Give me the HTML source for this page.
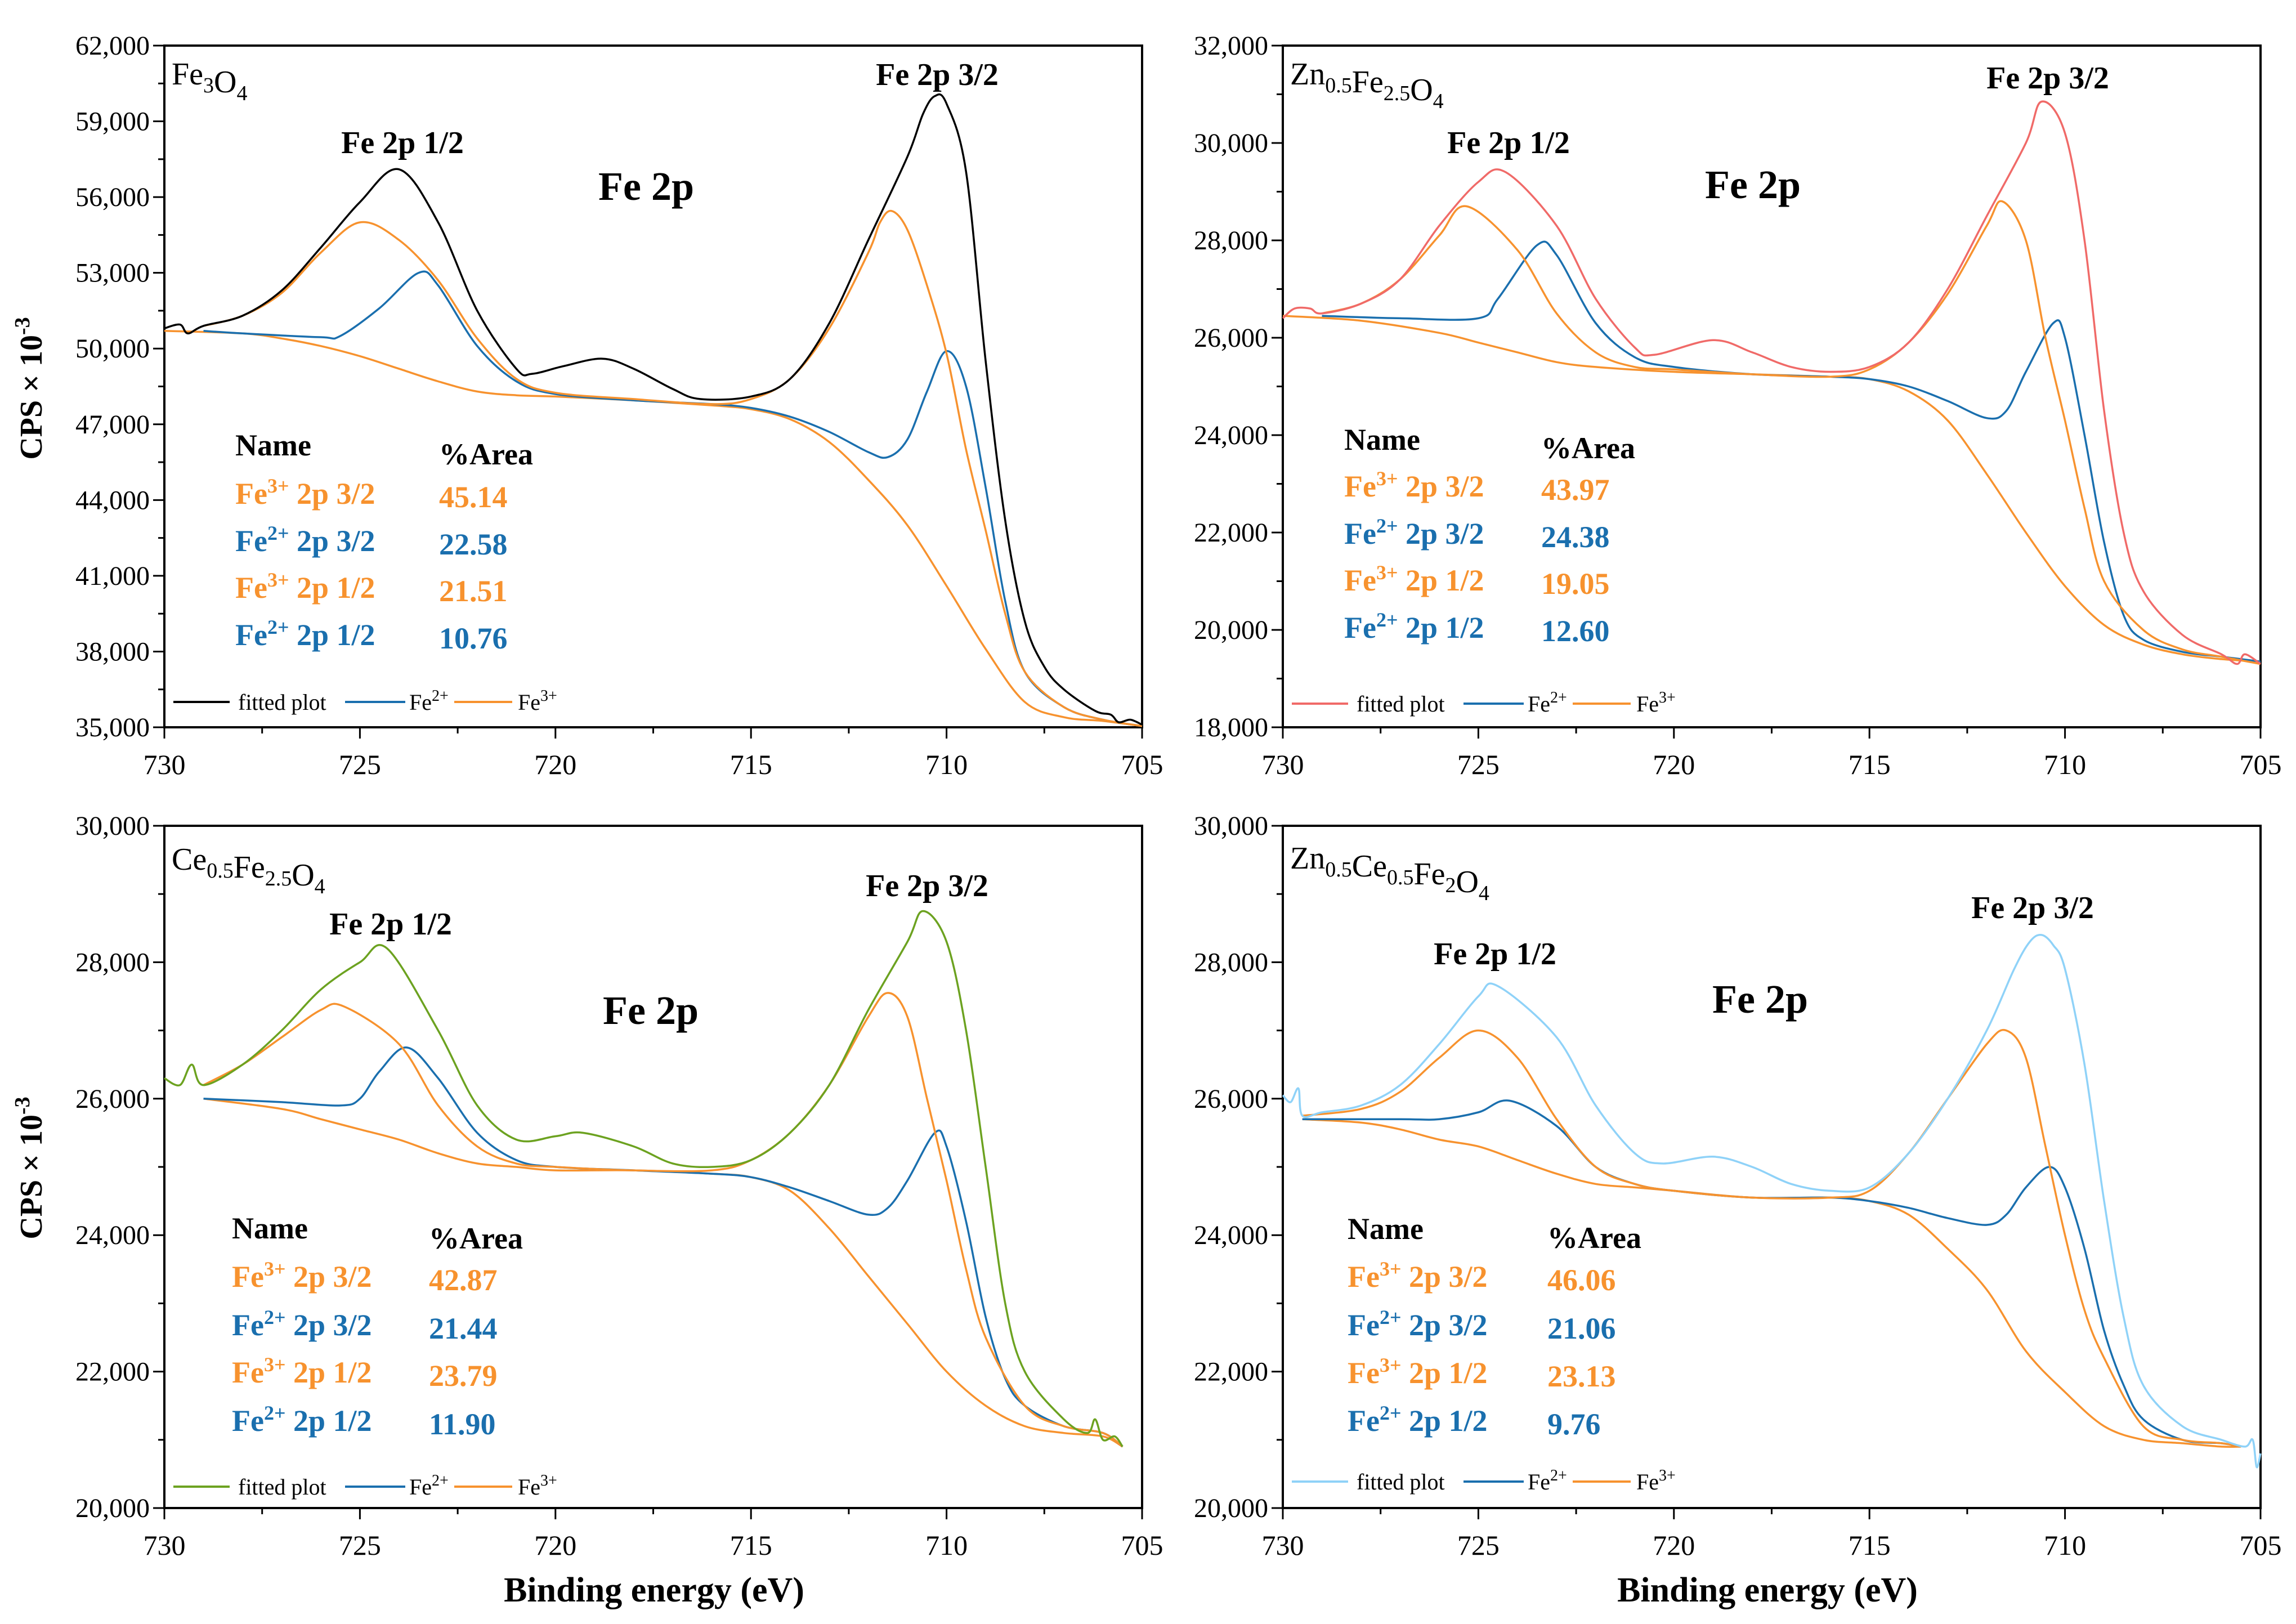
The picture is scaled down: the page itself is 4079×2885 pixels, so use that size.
<!DOCTYPE html>
<html><head><meta charset="utf-8">
<style>
html,body{margin:0;padding:0;background:#fff}
svg{display:block}
text{font-family:"Liberation Serif",serif}
</style></head>
<body>
<svg id="chart" width="4079" height="2885" viewBox="0 0 4079 2885" xmlns="http://www.w3.org/2000/svg">
<rect width="4079" height="2885" fill="#fff"/>
<text transform="translate(74,690) rotate(-90)" text-anchor="middle" font-size="56" font-weight="bold">CPS × 10<tspan dy="-22" font-size="38">-3</tspan></text>
<text transform="translate(74,2075) rotate(-90)" text-anchor="middle" font-size="56" font-weight="bold">CPS × 10<tspan dy="-22" font-size="38">-3</tspan></text>
<text x="1162" y="2845" text-anchor="middle" font-size="62" font-weight="bold">Binding energy (eV)</text>
<text x="3140" y="2845" text-anchor="middle" font-size="62" font-weight="bold">Binding energy (eV)</text>
</svg>
<script>
// ---- data ----
const xTicks = [730, 725, 720, 715, 710, 705];
const yTicksA = [35000, 38000, 41000, 44000, 47000, 50000, 53000, 56000, 59000, 62000];
const yTicksB = [18000, 20000, 22000, 24000, 26000, 28000, 30000, 32000];
const yTicksC = [20000, 22000, 24000, 26000, 28000, 30000];
const legendNames = ["Fe3+ 2p 3/2", "Fe2+ 2p 3/2", "Fe3+ 2p 1/2", "Fe2+ 2p 1/2"];
const areasA = ["45.14", "22.58", "21.51", "10.76"];
const areasB = ["43.97", "24.38", "19.05", "12.60"];
const areasC = ["42.87", "21.44", "23.79", "11.90"];
const areasD = ["46.06", "21.06", "23.13", "9.76"];

const fitA = [[730,50800],[729.6,50950],[729.4,50600],[729,50900],[728,51300],[727,52300],[726,54000],[725,55800],[724,57100],[723,55000],[722,51500],[721,49200],[720.6,49000],[719.8,49300],[718.8,49600],[718,49200],[717,48400],[716.3,48000],[715,48100],[714,48800],[713,51000],[712,54300],[711,57600],[710.6,59300],[710.3,60000],[710,59700],[709.5,57000],[709,49500],[708.5,43200],[708,39200],[707.5,37400],[707,36500],[706.2,35650],[705.8,35500],[705.6,35200],[705.3,35300],[705,35100]];
const fe3A = [[729,50900],[728,51300],[727,52200],[726,53800],[725,55000],[724,54300],[723,52700],[722,50400],[721,48800],[720,48250],[718,48000],[716,47800],[715,48000],[714,48800],[713,50800],[712,53800],[711.7,55000],[711.4,55450],[711,54700],[710.5,52500],[710,49800],[709.5,46000],[709,42800],[708.5,39500],[708,37200],[707,35800],[706,35300],[705,35050]];
const fe2A = [[729,50700],[728,50600],[726,50450],[725.5,50500],[724.5,51600],[723.5,53000],[723,52500],[722,50100],[721,48700],[720,48200],[718,47950],[716,47800],[715,47650],[714,47300],[713,46700],[712,45900],[711.5,45700],[711,46400],[710.5,48300],[710,49900],[709.5,48500],[709,44500],[708.5,40000],[708,37200],[707,35800],[706,35300],[705,35050]];
const bgA = [[730,50700],[728,50600],[727,50400],[726,50100],[725,49700],[724,49200],[723,48700],[722,48300],[721,48150],[720,48100],[718,47950],[716,47750],[715,47600],[714,47200],[713,46300],[712,44800],[711,43000],[710,40600],[709,38100],[708,36000],[707,35400],[706,35250],[705,35050]];

const fitB = [[730,26400],[729.7,26600],[729.3,26600],[729,26500],[728,26700],[727,27200],[726,28300],[725,29200],[724.3,29400],[723,28300],[722,26800],[721,25800],[720.5,25650],[719,25950],[718,25700],[717,25400],[716,25300],[715,25400],[714,25900],[713,27000],[712,28500],[711,30000],[710.6,30850],[710,30200],[709.5,28000],[709,24500],[708.5,22000],[708,20800],[707,19900],[706,19500],[705.6,19300],[705.4,19500],[705,19300]];
const fe3B = [[729,26500],[728,26700],[727,27200],[726,28100],[725.3,28700],[724,27800],[723,26500],[722,25700],[721,25400],[720,25350],[718,25250],[716,25200],[715,25350],[714,25900],[713,26900],[712,28300],[711.6,28800],[711,28000],[710.5,26000],[710,24300],[709.5,22500],[709,21000],[708,20000],[707,19600],[706,19450],[705,19300]];
const fe2B = [[729,26450],[727,26400],[725,26400],[724.5,26800],[723.5,27900],[723,27700],[722,26300],[721,25600],[720,25400],[718,25250],[716,25200],[715,25150],[714,25000],[713,24700],[712,24350],[711.5,24500],[711,25300],[710.3,26300],[710,26000],[709.5,24000],[709,21800],[708.5,20300],[708,19800],[707,19550],[706,19450],[705,19350]];
const bgB = [[730,26450],[728,26350],[726,26100],[725,25900],[724,25700],[723,25500],[722,25400],[720,25300],[718,25250],[716,25200],[715,25150],[714,24900],[713,24300],[712,23200],[711,22000],[710,20900],[709,20100],[708,19700],[707,19500],[706,19400],[705,19350]];

const fitC = [[730,26300],[729.6,26200],[729.3,26500],[729,26200],[728,26500],[727,27000],[726,27600],[725,28000],[724.3,28200],[723,27000],[722,25900],[721,25400],[720,25450],[719.3,25500],[718,25300],[717,25050],[716,25000],[715,25100],[714,25500],[713,26200],[712,27300],[711,28300],[710.6,28750],[710,28300],[709.5,27000],[709,25000],[708.5,23000],[708,22000],[707,21300],[706.4,21100],[706.2,21300],[706,21000],[705.7,21050],[705.5,20900]];
const fe3C = [[729,26200],[728,26500],[727,26900],[726,27300],[725.4,27350],[724,26800],[723,25900],[722,25300],[721,25050],[720,25000],[718,24950],[716,24950],[715,25100],[714,25500],[713,26200],[712,27200],[711.5,27550],[711,27200],[710.5,26000],[710,24800],[709.5,23500],[709,22500],[708,21500],[707,21200],[706,21100],[705.5,20900]];
const fe2C = [[729,26000],[727,25950],[725.5,25900],[725,26000],[724.5,26400],[723.8,26750],[723,26300],[722,25500],[721,25100],[720,25000],[718,24950],[716,24900],[715,24850],[714,24700],[713,24500],[712,24300],[711.5,24400],[711,24800],[710.3,25500],[710,25300],[709.5,24200],[709,22800],[708.5,21900],[708,21500],[707,21200],[706,21100],[705.5,20900]];
const bgC = [[729,26000],[727,25850],[726,25700],[725,25550],[724,25400],[723,25200],[722,25050],[721,25000],[720,24950],[718,24950],[716,24900],[715,24850],[714,24650],[713,24100],[712,23400],[711,22700],[710,22000],[709,21500],[708,21200],[707,21100],[706,21050],[705.5,20900]];

const fitD = [[730,26050],[729.8,25950],[729.6,26150],[729.5,25750],[729,25800],[728,25900],[727,26200],[726,26800],[725,27500],[724.5,27650],[723,26900],[722,25900],[721,25200],[720.3,25050],[719,25150],[718,25000],[717,24750],[716,24650],[715,24700],[714,25200],[713,26000],[712,27000],[711.3,27900],[710.9,28300],[710.6,28400],[710.3,28250],[710,27900],[709.5,26500],[709,24500],[708.5,22800],[708,21800],[707,21200],[706,21000],[705.4,20900],[705.2,21000],[705.1,20600],[705,20800]];
const fe3D = [[729.5,25750],[728,25850],[727,26100],[726,26600],[725,27000],[724,26600],[723,25700],[722,25000],[721,24750],[720,24650],[718,24550],[716,24550],[715,24650],[714,25200],[713,26000],[712,26800],[711.5,27000],[711,26600],[710.5,25300],[710,24000],[709.5,22900],[709,22200],[708,21200],[707,21000],[706,20950],[705.5,20900]];
const fe2D = [[729.5,25700],[727,25700],[726,25700],[725,25800],[724.2,25970],[723,25600],[722,25000],[721,24750],[720,24650],[718,24550],[716,24550],[715,24500],[714,24400],[713,24250],[712,24150],[711.5,24300],[711,24700],[710.4,25000],[710,24700],[709.5,23800],[709,22600],[708.5,21800],[708,21300],[707,21000],[706,20950],[705.5,20900]];
const bgD = [[729.5,25700],[728,25650],[727,25550],[726,25400],[725,25300],[724,25100],[723,24900],[722,24750],[721,24700],[720,24650],[718,24550],[716,24550],[715,24500],[714,24300],[713,23800],[712,23200],[711,22300],[710,21700],[709,21200],[708,21000],[707,20950],[706,20900],[705.5,20900]];

// ---- rendering ----
const NS = "http://www.w3.org/2000/svg";
const svg = document.getElementById("chart");
const ORANGE = "#f7922e", BLUE = "#1a6fae";

function mk(tag, attrs, parent) {
  const e = document.createElementNS(NS, tag);
  for (const k in attrs) e.setAttribute(k, attrs[k]);
  (parent || svg).appendChild(e);
  return e;
}
function fmt(v) { return v.toLocaleString("en-US"); }
function smoothPath(pts) {
  let d = "M" + pts[0][0].toFixed(1) + "," + pts[0][1].toFixed(1);
  for (let i = 0; i < pts.length - 1; i++) {
    const p0 = pts[Math.max(0, i - 1)], p1 = pts[i], p2 = pts[i + 1], p3 = pts[Math.min(pts.length - 1, i + 2)];
    const c1x = p1[0] + (p2[0] - p0[0]) / 6, c1y = p1[1] + (p2[1] - p0[1]) / 6;
    const c2x = p2[0] - (p3[0] - p1[0]) / 6, c2y = p2[1] - (p3[1] - p1[1]) / 6;
    d += "C" + c1x.toFixed(1) + "," + c1y.toFixed(1) + " " + c2x.toFixed(1) + "," + c2y.toFixed(1) + " " + p2[0].toFixed(1) + "," + p2[1].toFixed(1);
  }
  return d;
}

function panel(cfg) {
  const {L, T, W, H, yTicks, minorStep, fit, fe3, fe2, bg, fitColor, areas, id, lab} = cfg;
  const g = mk("g", {});
  
  
  const ymin = yTicks[0], ymax = yTicks[yTicks.length - 1];
  const xs = e => L + (730 - e) / 25 * W;
  const ys = v => T + H - (v - ymin) / (ymax - ymin) * H;
  const toPts = arr => arr.map(p => [xs(p[0]), ys(p[1])]);

  const fr = mk("rect", {x: L, y: T, width: W, height: H, fill: "none", stroke: "#000", "stroke-width": 4}, g);
  
  
  for (let v = ymin; v <= ymax + 1; v += minorStep) {
    const major = yTicks.includes(v);
    mk("line", {x1: L, x2: L - (major ? 20 : 11), y1: ys(v), y2: ys(v), stroke: "#000", "stroke-width": 3}, g);
  }
  yTicks.forEach(v => {
    const t = mk("text", {x: L - 26, y: ys(v) + 16, "text-anchor": "end", "font-size": 48}, g);
    
    
    t.textContent = fmt(v);
  });
  for (let e = 730; e >= 705; e -= 2.5) {
    const major = e % 5 === 0;
    mk("line", {x1: xs(e), x2: xs(e), y1: T + H, y2: T + H + (major ? 20 : 11), stroke: "#000", "stroke-width": 3}, g);
  }
  xTicks.forEach(e => {
    const t = mk("text", {x: xs(e), y: T + H + 83, "text-anchor": "middle", "font-size": 50}, g);
    
    
    t.textContent = e;
  });
  const series = [[bg, ORANGE, "background-line"], [fe2, BLUE, "fe2-line"], [fe3, ORANGE, "fe3-line"], [fit, fitColor, "fitted-line"]];
  series.forEach(s => {
    const p = mk("path", {d: smoothPath(toPts(s[0])), fill: "none", stroke: s[1], "stroke-width": 3.5, "stroke-linejoin": "round"}, g);
    
    
  });
  const t1 = mk("text", {x: L + 13, y: T + lab.title[1], "font-size": 56}, g);
  
  
  t1.innerHTML = lab.titleHtml;
  const addTxt = (x, y, s, size, name, anchor, color) => {
    const t = mk("text", {x: x, y: y, "font-size": size, "font-weight": "bold", "text-anchor": anchor || "start", fill: color || "#000"}, g);
    
    
    t.innerHTML = s;
    return t;
  };
  addTxt(L + lab.p12[0], T + lab.p12[1], "Fe 2p 1/2", 56, "peak-label-2p12", "middle");
  addTxt(L + lab.p32[0], T + lab.p32[1], "Fe 2p 3/2", 56, "peak-label-2p32", "middle");
  addTxt(L + lab.fe[0], T + lab.fe[1], "Fe 2p", 72, "region-label", "middle");
  addTxt(L + lab.name[0], T + lab.name[1], "Name", 54, "legend-name-header");
  addTxt(L + lab.area[0], T + lab.area[1], "%Area", 54, "legend-area-header");
  legendNames.forEach((n, i) => {
    const col = n.indexOf("3+") > 0 ? ORANGE : BLUE;
    const parts = n.split(" ");
    const html = "Fe<tspan dy='-20' font-size='36'>" + parts[0].slice(2) + "</tspan><tspan dy='20'> " + parts[1] + " " + parts[2] + "</tspan>";
    addTxt(L + lab.name[0], T + lab.rows[i], html, 54, "legend-row-name", "start", col);
    addTxt(L + lab.area[0], T + lab.rows[i] + 6, areas[i], 54, "legend-row-area", "start", col);
  });
  const ly = T + lab.leg;
  const items = [[16, 116, fitColor, 131, "fitted plot"], [321, 428, BLUE, 435, "Fe<tspan dy='-16' font-size='28'>2+</tspan>"], [515, 618, ORANGE, 628, "Fe<tspan dy='-16' font-size='28'>3+</tspan>"]];
  items.forEach(it => {
    const ln = mk("line", {x1: L + it[0], x2: L + it[1], y1: ly, y2: ly, stroke: it[2], "stroke-width": 4}, g);
    
    
    const t = mk("text", {x: L + it[3], y: ly + 14, "font-size": 40}, g);
    
    
    t.innerHTML = it[4];
  });
}

const sub = s => "<tspan dy='14' font-size='38'>" + s + "</tspan><tspan dy='-14'></tspan>";
panel({id: "fe3o4", L: 292, T: 81, W: 1737, H: 1211, yTicks: yTicksA, minorStep: 1500, fit: fitA, fe3: fe3A, fe2: fe2A, bg: bgA, fitColor: "#000", areas: areasA,
  lab: {title: [13, 69], titleHtml: "Fe" + sub("3") + "O" + sub("4"), p12: [423, 191], p32: [1373, 70], fe: [856, 274], name: [126, 728], area: [488, 744], rows: [814, 898, 981, 1065], leg: 1166}});
panel({id: "zn-ferrite", L: 2279, T: 81, W: 1737, H: 1211, yTicks: yTicksB, minorStep: 1000, fit: fitB, fe3: fe3B, fe2: fe2B, bg: bgB, fitColor: "#f06a68", areas: areasB,
  lab: {title: [13, 69], titleHtml: "Zn" + sub("0.5") + "Fe" + sub("2.5") + "O" + sub("4"), p12: [401, 191], p32: [1359, 76], fe: [835, 271], name: [109, 718], area: [459, 733], rows: [801, 885, 968, 1052], leg: 1169}});
panel({id: "ce-ferrite", L: 292, T: 1467, W: 1737, H: 1212, yTicks: yTicksC, minorStep: 1000, fit: fitC, fe3: fe3C, fe2: fe2C, bg: bgC, fitColor: "#6ca220", areas: areasC,
  lab: {title: [13, 78], titleHtml: "Ce" + sub("0.5") + "Fe" + sub("2.5") + "O" + sub("4"), p12: [402, 193], p32: [1355, 125], fe: [864, 352], name: [120, 733], area: [470, 751], rows: [819, 905, 989, 1075], leg: 1174}});
panel({id: "zn-ce-ferrite", L: 2279, T: 1467, W: 1737, H: 1212, yTicks: yTicksC, minorStep: 1000, fit: fitD, fe3: fe3D, fe2: fe2D, bg: bgD, fitColor: "#8fd2f8", areas: areasD,
  lab: {title: [13, 76], titleHtml: "Zn" + sub("0.5") + "Ce" + sub("0.5") + "Fe" + sub("2") + "O" + sub("4"), p12: [377, 246], p32: [1332, 164], fe: [848, 332], name: [115, 734], area: [470, 750], rows: [819, 905, 990, 1075], leg: 1165}});
</script>
</body></html>
